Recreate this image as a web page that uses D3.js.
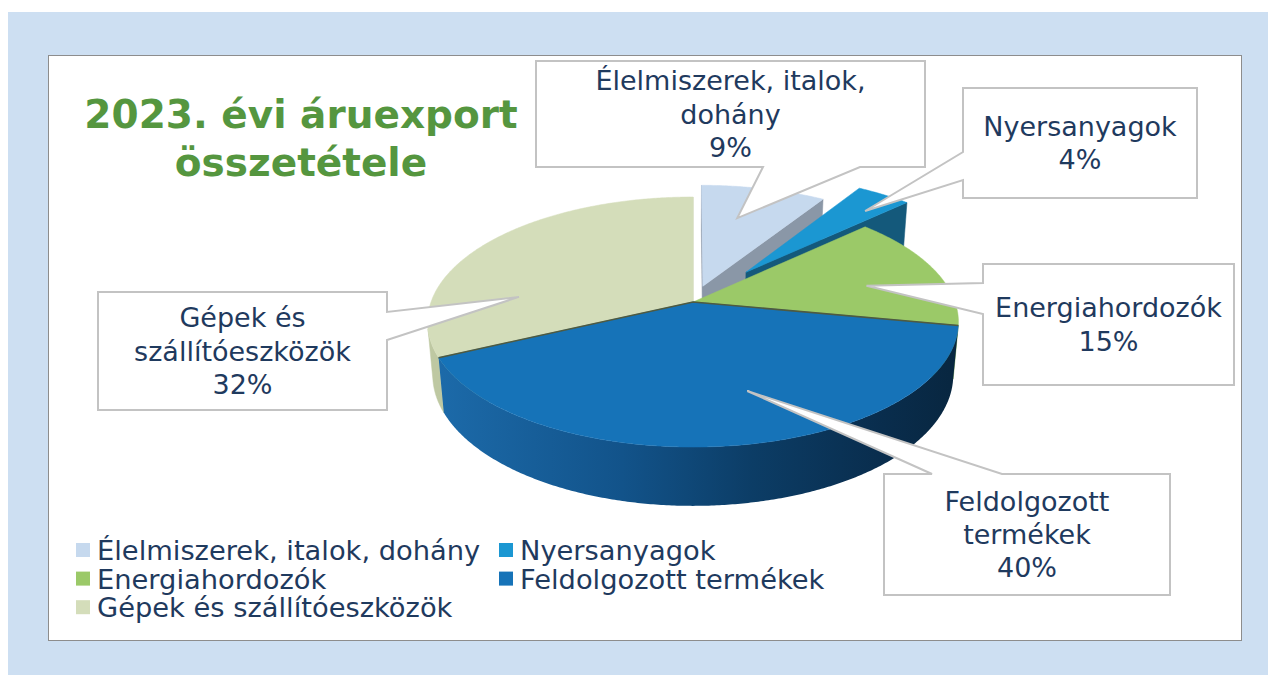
<!DOCTYPE html>
<html>
<head>
<meta charset="utf-8">
<script src="https://cdn.jsdelivr.net/npm/d3@7"></script>
<style>
  body { margin: 0; background: #fff; }
  svg { display: block; }
</style>
</head>
<body>
<div id="chart"></div>
<script>
// data
const categories = ["Élelmiszerek, italok, dohány", "Nyersanyagok", "Energiahordozók", "Feldolgozott termékek", "Gépek és szállítóeszközök"];
const shares = [9, 4, 15, 40, 32];
const calloutNames = [["Élelmiszerek, italok,", "dohány"], ["Nyersanyagok"], ["Energiahordozók"], ["Feldolgozott", "termékek"], ["Gépek és", "szállítóeszközök"]];
const titleLines = ["2023. évi áruexport", "összetétele"];

// styles
const topColors = ["#c6d9ee", "#1b97d2", "#9bc968", "#1673b8", "#d4ddba"];
const sideColors = ["#8a97a7", "#14597b", "#77a24c", "#0e4470", "#bec8a2"];
const explode = [0.137, 0.33, 0, 0, 0];

// callout layout: box, side where the pointer leaves, pointer base on that side,
// and pointer tip as (fraction of slice angle, fraction of radius)
const callouts = [
  {box: [536, 61, 925, 167], side: "bottom", base: [763, 860], t: 0.41, r: 0.66},
  {box: [963, 88, 1197, 198], side: "left", base: [152, 180], t: 0.67, r: 0.80},
  {box: [983, 264, 1234, 385], side: "left", base: [283, 314], t: 0.59, r: 0.69},
  {box: [884, 474, 1170, 595], side: "top", base: [932, 1002], t: 0.44, r: 0.68},
  {box: [98, 292, 387, 410], side: "right", base: [312, 340], t: 0.25, r: 0.67}
];

const W = 1268, H = 675;
const svg = d3.select("#chart").append("svg").attr("width", W).attr("height", H);

// background
svg.append("rect").attr("x", 8).attr("y", 12).attr("width", W - 8).attr("height", H - 12).attr("fill", "#cddff2");
svg.append("rect").attr("x", 48.5).attr("y", 55.5).attr("width", 1193).attr("height", 585)
  .attr("fill", "#fff").attr("stroke", "#8d8d8d").attr("stroke-width", 1);

// gradient for the front wall of the big slice
const defs = svg.append("defs");
const grad = defs.append("linearGradient").attr("id", "wallBlue")
  .attr("gradientUnits", "userSpaceOnUse").attr("x1", 440).attr("x2", 960).attr("y1", 0).attr("y2", 0);
[["0", "#1c6aa9"], ["0.35", "#12538a"], ["0.6", "#0c3d66"], ["0.85", "#092d4d"], ["1", "#08263f"]]
  .forEach(s => grad.append("stop").attr("offset", s[0]).attr("stop-color", s[1]));

// title
svg.append("g").selectAll("text").data(titleLines).join("text")
  .attr("x", 301).attr("y", (d, i) => 128 + i * 48)
  .attr("text-anchor", "middle")
  .attr("font-family", "'DejaVu Sans', Verdana, sans-serif")
  .attr("font-weight", "bold").attr("font-size", 39)
  .attr("fill", "#55963f")
  .text(d => d);

// 3D pie projection (units of the radius; x right, z away from viewer, y up)
const pie3d = {cx: 693, cy: 302, R: 262, tilt: Math.asin(0.465), dist: 5.53, thick: 0.23};
const sinT = Math.sin(pie3d.tilt), cosT = Math.cos(pie3d.tilt);

function project(x, z, y) {
  const up = z * sinT + y * cosT;
  const depth = z * cosT - y * sinT;
  const s = pie3d.dist / (pie3d.dist + depth);
  return [pie3d.cx + pie3d.R * x * s, pie3d.cy - pie3d.R * up * s];
}
// camera sees a vertical face with horizontal normal (nx, nz) at point (px, pz)?
function faces(px, pz, nx, nz) {
  return px * nx + (pz + pie3d.dist * cosT) * nz < 0;
}

const arcs = d3.pie().sort(null).value(d => d)(shares);
const line = d3.line();

function rimPoints(o, a0, a1, y) {
  const n = Math.max(2, Math.ceil((a1 - a0) / (Math.PI / 360)));
  const pts = [];
  for (let i = 0; i <= n; i++) {
    const a = a0 + (a1 - a0) * i / n;
    pts.push(project(o[0] + Math.sin(a), o[1] + Math.cos(a), y));
  }
  return pts;
}

const slices = arcs.map((a, i) => {
  const mid = (a.startAngle + a.endAngle) / 2;
  const o = [explode[i] * Math.sin(mid), explode[i] * Math.cos(mid)];
  return {i, a, mid, o, depth: Math.cos(mid) + o[1]};
});

// painter's order: farthest slice first
const pieG = svg.append("g");
slices.slice().sort((p, q) => q.depth - p.depth).forEach(sl => {
  const {i, a, o} = sl;
  const g = pieG.append("g");
  const h = -pie3d.thick;
  const a0 = a.startAngle, a1 = a.endAngle;

  // radial faces
  [[a0, -1], [a1, 1]].forEach(([ang, sgn]) => {
    const nx = sgn * Math.cos(ang), nz = -sgn * Math.sin(ang);
    const px = o[0] + 0.5 * Math.sin(ang), pz = o[1] + 0.5 * Math.cos(ang);
    if (!faces(px, pz, nx, nz)) return;
    const pts = [project(o[0], o[1], 0), project(o[0] + Math.sin(ang), o[1] + Math.cos(ang), 0),
      project(o[0] + Math.sin(ang), o[1] + Math.cos(ang), h), project(o[0], o[1], h)];
    g.append("path").attr("d", line(pts) + "Z").attr("fill", sideColors[i])
      .attr("stroke", sideColors[i]).attr("stroke-width", 0.5);
  });

  // outer wall, only the parts facing the viewer
  const n = Math.max(2, Math.ceil((a1 - a0) / (Math.PI / 360)));
  let run = [];
  const runs = [];
  for (let k = 0; k <= n; k++) {
    const ang = a0 + (a1 - a0) * k / n;
    const vis = faces(o[0] + Math.sin(ang), o[1] + Math.cos(ang), Math.sin(ang), Math.cos(ang));
    if (vis) run.push(ang);
    else if (run.length) { runs.push(run); run = []; }
  }
  if (run.length) runs.push(run);
  runs.filter(r => r.length > 1).forEach(r => {
    const topPts = r.map(ang => project(o[0] + Math.sin(ang), o[1] + Math.cos(ang), 0));
    const botPts = r.map(ang => project(o[0] + Math.sin(ang), o[1] + Math.cos(ang), h)).reverse();
    g.append("path").attr("d", line(topPts.concat(botPts)) + "Z")
      .attr("fill", i === 3 ? "url(#wallBlue)" : sideColors[i])
      .attr("stroke", i === 3 ? "none" : sideColors[i]).attr("stroke-width", 0.5);
  });

  // top face
  const topFace = [project(o[0], o[1], 0)].concat(rimPoints(o, a0, a1, 0));
  g.append("path").attr("d", line(topFace) + "Z").attr("fill", topColors[i])
    .attr("stroke", topColors[i]).attr("stroke-width", 0.5);

  // thin dark seam along the radial edges of the big front slice
  if (i === 3) {
    const seam = [project(o[0] + Math.sin(a0), o[1] + Math.cos(a0), 0), project(o[0], o[1], 0),
      project(o[0] + Math.sin(a1), o[1] + Math.cos(a1), 0)];
    g.append("path").attr("d", line(seam)).attr("fill", "none")
      .attr("stroke", "#4f5a40").attr("stroke-width", 1.6);
  }
});

// callouts
const textColor = "#1f3a5e";
const calloutG = svg.append("g");
callouts.forEach((c, i) => {
  const s = slices[i];
  const ang = s.a.startAngle + (s.a.endAngle - s.a.startAngle) * c.t;
  const tip = project(s.o[0] + c.r * Math.sin(ang), s.o[1] + c.r * Math.cos(ang), 0);
  const [x0, y0, x1, y1] = c.box;
  const [b0, b1] = c.base;
  const pts = [[x0, y0]];
  if (c.side === "top") pts.push([b0, y0], tip, [b1, y0]);
  pts.push([x1, y0]);
  if (c.side === "right") pts.push([x1, b0], tip, [x1, b1]);
  pts.push([x1, y1]);
  if (c.side === "bottom") pts.push([b1, y1], tip, [b0, y1]);
  pts.push([x0, y1]);
  if (c.side === "left") pts.push([x0, b1], tip, [x0, b0]);
  calloutG.append("path").attr("d", line(pts) + "Z")
    .attr("fill", "#fff").attr("stroke", "#c3c3c3").attr("stroke-width", 2)
    .attr("stroke-linejoin", "miter");

  const lines = calloutNames[i].concat([shares[i] + "%"]);
  const midY = (y0 + y1) / 2 + 9.5;
  const lh = 33.3;
  calloutG.append("g").selectAll("text").data(lines).join("text")
    .attr("x", (x0 + x1) / 2)
    .attr("y", (d, k) => midY + (k - (lines.length - 1) / 2) * lh)
    .attr("text-anchor", "middle")
    .attr("font-family", "'DejaVu Sans', Verdana, sans-serif")
    .attr("font-size", 27).attr("fill", textColor)
    .text(d => d);
});

// legend
const legend = svg.append("g");
const colX = [76, 499];
const item = legend.selectAll("g").data(categories).join("g")
  .attr("transform", (d, i) => `translate(${colX[i % 2]},${560 + Math.floor(i / 2) * 28.6})`);
item.append("rect").attr("x", 0).attr("y", -17).attr("width", 14).attr("height", 14)
  .attr("fill", (d, i) => topColors[i]);
item.append("text").attr("x", 21).attr("y", 0)
  .attr("font-family", "'DejaVu Sans', Verdana, sans-serif")
  .attr("font-size", 27.3).attr("fill", textColor)
  .text(d => d);
</script>
</body>
</html>
